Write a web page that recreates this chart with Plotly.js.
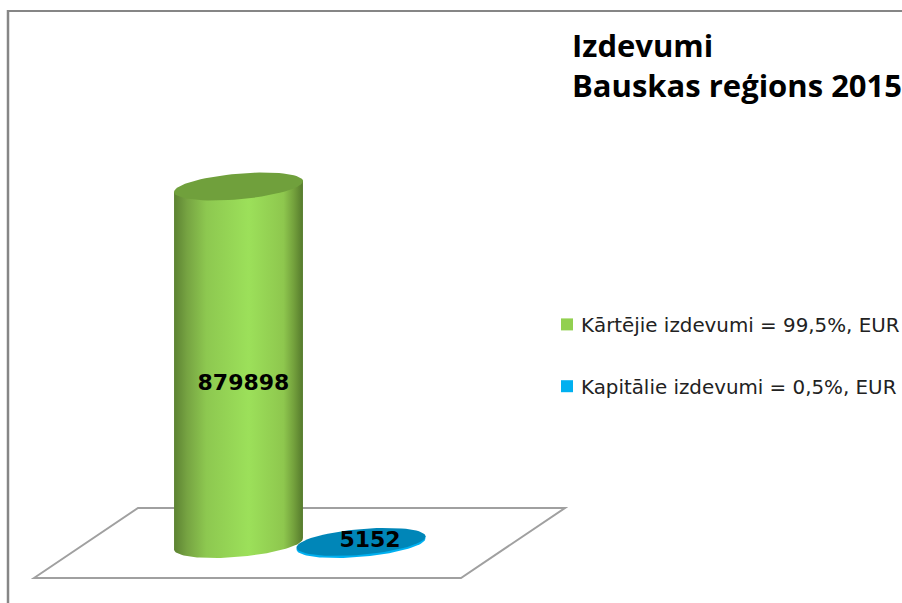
<!DOCTYPE html>
<html>
<head>
<meta charset="utf-8">
<script src="https://cdn.plot.ly/plotly-3.0.1.min.js"></script>
<style>html,body{margin:0;padding:0;background:#fff;overflow:hidden}#chart{width:902px;height:603px}</style>
</head>
<body>
<div id="chart"></div>
<script>
// Data
const categories = ["Kārtējie izdevumi = 99,5%, EUR", "Kapitālie izdevumi = 0,5%, EUR"];
const values = [879898, 5152];
const titleText = "Izdevumi<br>Bauskas reģions 2015";

// Styles and geometry
const W = 902, H = 603;
const baseline = 544;                  // pixel row of value 0
const unitsPerPx = 879898 / 357.5;     // value scale of the y axis
const centers = [238.5, 361];          // x centre of each column
const ea = 64.74, eb = 12.83, tilt = 5.08 * Math.PI / 180;
const legendColors = ["#92d050", "#00b0f0"];
const capColors = ["#70a03c", "#0086b8"];
const sideColors = ["#9ade56", "#00b0f0"];
const bodyGradients = [
  [[0, "#5c8232"], [0.1, "#76a342"], [0.25, "#8dc850"], [0.58, "#9ce05a"], [0.85, "#8ec74e"], [0.93, "#73a03c"], [1, "#557a2c"]],
  [[0, "#00b0f0"], [1, "#00b0f0"]]
];

const ellipsePoint = (cx, cy, t) => {
  const ex = ea * Math.cos(t), ey = eb * Math.sin(t);
  return [cx + ex * Math.cos(tilt) + ey * Math.sin(tilt),
          cy - ex * Math.sin(tilt) + ey * Math.cos(tilt)];
};
const tLeft = Math.PI - Math.atan2(eb * Math.sin(tilt), ea * Math.cos(tilt));
const tRight = -Math.atan2(eb * Math.sin(tilt), ea * Math.cos(tilt));

function cap(cx, value) {
  const xs = [], ys = [];
  for (let i = 0; i <= 72; i++) {
    const p = ellipsePoint(cx, 0, i / 72 * 2 * Math.PI);
    xs.push(p[0]); ys.push(value - p[1] * unitsPerPx);
  }
  return {x: xs, y: ys};
}
function body(cx, value) {
  const xs = [], ys = [];
  for (let i = 0; i <= 60; i++) {
    const t = tRight + (tLeft - tRight) * i / 60;
    const p = ellipsePoint(cx, 0, t);
    xs.push(p[0]); ys.push(-p[1] * unitsPerPx);
  }
  const l = ellipsePoint(cx, 0, tLeft), r = ellipsePoint(cx, 0, tRight);
  xs.push(l[0], r[0], xs[0]);
  ys.push(value - l[1] * unitsPerPx, value - r[1] * unitsPerPx, ys[0]);
  return {x: xs, y: ys};
}

const traces = [];
values.forEach((v, i) => {
  const b = body(centers[i], v);
  traces.push({type: "scatter", mode: "lines", x: b.x, y: b.y, fill: "toself",
    line: {width: 0, color: sideColors[i]},
    fillgradient: {type: "horizontal", colorscale: bodyGradients[i]},
    showlegend: false, hoverinfo: "skip"});
  const c = cap(centers[i], v);
  traces.push({type: "scatter", mode: "lines", x: c.x, y: c.y, fill: "toself",
    fillcolor: capColors[i], line: {width: 0, color: capColors[i]},
    showlegend: false, hoverinfo: "skip"});
});
// Value labels
traces.push({type: "scatter", mode: "text", x: [centers[0] + 5, centers[1] + 9],
  y: [values[0] / 2 - 19 * unitsPerPx, values[1] + 0 * unitsPerPx],
  text: values.map(String), textposition: "middle center",
  textfont: {family: "DejaVu Sans", size: 22, color: "#000", weight: "bold"},
  showlegend: false, hoverinfo: "skip", cliponaxis: false});
// Legend entries
categories.forEach((name, i) => {
  traces.push({type: "scatter", mode: "markers", name: name, x: [null], y: [null],
    legendgroup: "g" + i,
    marker: {symbol: "square", size: 12, color: legendColors[i]}});
});

const px = (x) => x / W, py = (y) => 1 - y / H;
const floor = [[34, 578], [138, 508], [565, 508], [461, 578]];
const floorPath = "M" + floor.map(p => px(p[0]) + "," + py(p[1])).join("L") + "Z";

const layout = {
  width: W, height: H,
  margin: {l: 0, r: 0, t: 0, b: 0, pad: 0, autoexpand: false},
  paper_bgcolor: "#fff", plot_bgcolor: "rgba(0,0,0,0)",
  xaxis: {visible: false, range: [0, W], fixedrange: true},
  yaxis: {visible: false, range: [(baseline - H) * unitsPerPx, baseline * unitsPerPx], fixedrange: true},
  title: {text: titleText, x: 572 / W, xref: "paper", xanchor: "left",
    y: 1 - 57 / H, yref: "container", yanchor: "top",
    font: {family: "Open Sans", size: 31, color: "#000", weight: "bold"}},
  legend: {x: 541 / W, xanchor: "left", y: 1 - 305 / H, yanchor: "top",
    bgcolor: "rgba(0,0,0,0)", tracegroupgap: 33, itemwidth: 30,
    font: {family: "DejaVu Sans", size: 19.85, color: "#222"}},
  shapes: [
    {type: "path", xref: "paper", yref: "paper", layer: "below", path: floorPath,
      line: {color: "#a0a0a0", width: 2}, fillcolor: "rgba(0,0,0,0)"},
    {type: "line", xref: "paper", yref: "paper", x0: px(8), x1: px(8), y0: py(10), y1: py(603),
      line: {color: "#868686", width: 2.5}},
    {type: "line", xref: "paper", yref: "paper", x0: px(7), x1: px(902), y0: py(11), y1: py(11),
      line: {color: "#868686", width: 2}}
  ],
  showlegend: true
};
Plotly.newPlot("chart", traces, layout, {displayModeBar: false, staticPlot: true}).then(() => {
  document.querySelectorAll(".legendsymbols").forEach(g => g.setAttribute("transform", "translate(6,0)"));
});
</script>
</body>
</html>
